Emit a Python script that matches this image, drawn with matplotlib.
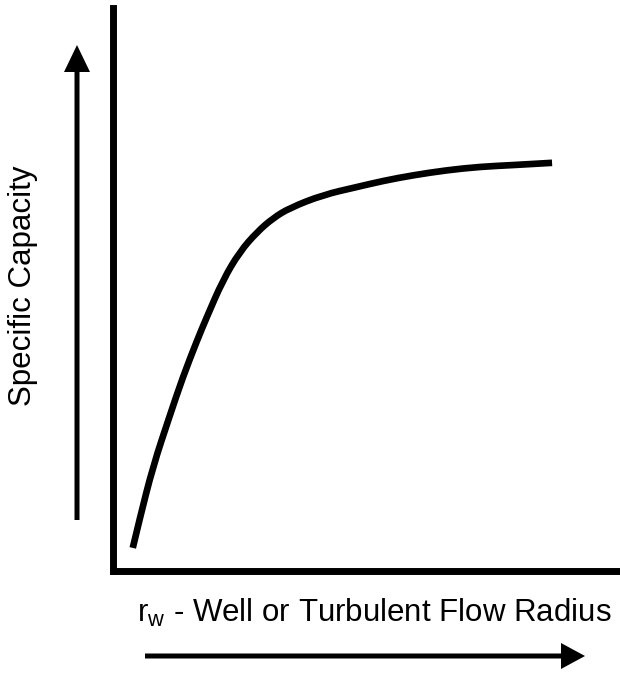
import numpy as np
import matplotlib.pyplot as plt
from matplotlib.patches import FancyArrow, PathPatch
from matplotlib.path import Path

plt.rcParams['font.family'] = 'Liberation Sans'
plt.rcParams['mathtext.fontset'] = 'custom'
plt.rcParams['mathtext.rm'] = 'Liberation Sans'
plt.rcParams['mathtext.it'] = 'Liberation Sans'

# curve (axis units: fraction of axis length)
radius = [0.039, 0.053, 0.079, 0.112, 0.138, 0.166, 0.185, 0.217, 0.250,
          0.284, 0.316, 0.349, 0.414, 0.481, 0.533, 0.592, 0.659, 0.724,
          0.789, 0.866]
capacity = [0.041, 0.094, 0.186, 0.276, 0.345, 0.410, 0.451, 0.517, 0.567,
            0.602, 0.627, 0.645, 0.668, 0.682, 0.693, 0.703, 0.712, 0.718,
            0.721, 0.725]

xlabel = r'r$_{\mathrm{w}}$ - Well or Turbulent Flow Radius'
ylabel = 'Specific Capacity'

W, H = 620, 673
fig = plt.figure(figsize=(W / 100, H / 100), dpi=100)

# main axes: left spine at x=113px, bottom spine at y=571px
ax = fig.add_axes([113 / W, (H - 571) / H, (W - 113) / W, (571 - 8) / H])

# smooth line through the read points: quadratic beziers between midpoints
pts = np.column_stack([radius, capacity])
verts = [pts[0]]
codes = [Path.MOVETO]
for i in range(1, len(pts) - 1):
    mid = (pts[i] + pts[i + 1]) / 2
    verts += [pts[i], mid]
    codes += [Path.CURVE3, Path.CURVE3]
verts.append(pts[-1])
codes.append(Path.LINETO)
ax.add_patch(PathPatch(Path(verts, codes), fill=False, edgecolor='black',
                       lw=4.8, capstyle='butt', joinstyle='round'))
ax.set_xlim(0, 1)
ax.set_ylim(0, 1)
for s in ['top', 'right']:
    ax.spines[s].set_visible(False)
for s in ['left', 'bottom']:
    ax.spines[s].set_linewidth(5)
    ax.spines[s].set_capstyle('projecting')
ax.set_xticks([])
ax.set_yticks([])

# overlay in pixel units for arrows and labels
ov = fig.add_axes([0, 0, 1, 1])
ov.set_xlim(0, W)
ov.set_ylim(H, 0)
ov.axis('off')
ov.patch.set_alpha(0)

ov.add_patch(FancyArrow(77, 520, 0, -475, width=5, head_width=26,
                        head_length=27, length_includes_head=True,
                        color='black', lw=0))
ov.add_patch(FancyArrow(145, 656, 440, 0, width=5, head_width=26,
                        head_length=24, length_includes_head=True,
                        color='black', lw=0))

ov.text(137, 622, xlabel, fontsize=22.5, ha='left', va='baseline')
ov.text(23, 286, ylabel, fontsize=22.5, rotation=90, ha='center', va='center')

fig.savefig('out.png', dpi=100)
